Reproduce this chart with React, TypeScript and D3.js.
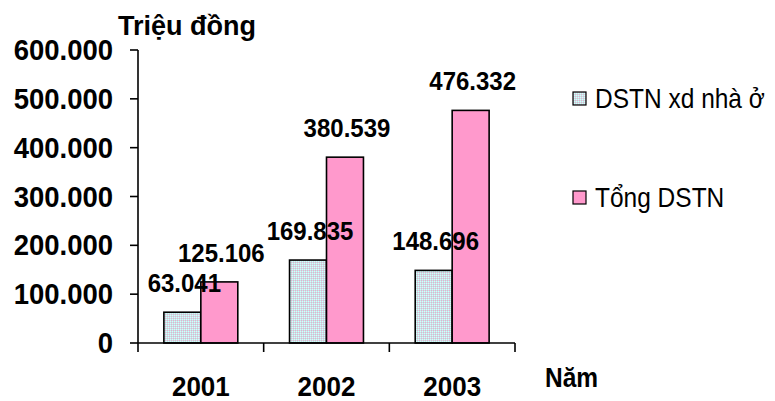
import React from "react";
import * as d3 from "d3";

const years = ["2001", "2002", "2003"];
const seriesNames = ["DSTN xd nhà ở", "Tổng DSTN"];
const housingRevenue = [63041, 169835, 148696];
const totalRevenue = [125106, 380539, 476332];
const yTicks = [0, 100000, 200000, 300000, 400000, 500000, 600000];

const W = 775;
const H = 401;
const FONT = "'Liberation Sans', Arial, Helvetica, sans-serif";
const PINK = "#ff99cc";

const fmt = (v: number) => {
  // Vietnamese style thousands separator
  const s = Math.round(v).toString();
  return s.replace(/\B(?=(\d{3})+(?!\d))/g, ".");
};

function Label(props: {
  x: number;
  y: number;
  size: number;
  anchor?: "start" | "middle" | "end";
  weight?: string;
  sy?: number;
  textLength?: number;
  children: React.ReactNode;
}) {
  const { x, y, size, anchor = "middle", weight = "bold", sy = 1.08, textLength } = props;
  return (
    <text
      transform={`translate(${x},${y}) scale(1,${sy})`}
      textAnchor={anchor}
      fontFamily={FONT}
      fontWeight={weight}
      fontSize={size}
      fill="#000"
      {...(textLength ? { textLength, lengthAdjust: "spacing" } : {})}
    >
      {props.children}
    </text>
  );
}

export default function App() {
  const left = 138;
  const right = 515;
  const y0 = 343;
  const yTop = 50;

  const x0 = d3.scaleBand<string>().domain(years).range([left, right]).padding(0);
  const x1 = d3
    .scaleBand<string>()
    .domain(seriesNames)
    .range([0, x0.bandwidth()])
    .paddingInner(0)
    .paddingOuter(0.7);
  const y = d3.scaleLinear().domain([0, 600000]).range([y0, yTop]);

  const data = years.map((yr, i) => ({
    year: yr,
    values: [housingRevenue[i], totalRevenue[i]],
  }));

  const fills = ["url(#dots)", PINK];

  return (
    <svg
      width={W}
      height={H}
      style={{ position: "fixed", left: 0, top: 0, background: "#fff" }}
    >
      <defs>
        <pattern id="dots" patternUnits="userSpaceOnUse" width={2} height={2}>
          <rect x={0} y={0} width={2} height={2} fill="#b8ecee" />
          <rect x={1} y={0} width={1} height={1} fill="#eeaac6" />
          <rect x={0} y={1} width={1} height={1} fill="#e2f4f4" />
        </pattern>
      </defs>

      {/* bars */}
      {data.map((d) =>
        d.values.map((v, j) => {
          const bx = (x0(d.year) ?? 0) + (x1(seriesNames[j]) ?? 0);
          const bw = x1.bandwidth();
          return (
            <rect
              key={`${d.year}-${j}`}
              x={bx}
              y={y(v)}
              width={bw}
              height={y0 - y(v)}
              fill={fills[j]}
              stroke="#000"
              strokeWidth={1.6}
            />
          );
        })
      )}

      {/* axes */}
      <line x1={left} x2={left} y1={y(600000)} y2={y0} stroke="#000" strokeWidth={1.6} />
      <line x1={left} x2={right} y1={y0} y2={y0} stroke="#000" strokeWidth={1.6} />
      {yTicks.map((t) => (
        <g key={t}>
          <line x1={left - 8} x2={left} y1={y(t)} y2={y(t)} stroke="#000" strokeWidth={1.6} />
          <Label x={113} y={y(t) + 10} size={27.5} anchor="end" sy={1.1}>
            {t === 0 ? "0" : fmt(t)}
          </Label>
        </g>
      ))}
      {[...years.map((yr) => x0(yr) ?? 0), right].map((tx, i) => (
        <line key={i} x1={tx} x2={tx} y1={y0} y2={y0 + 9} stroke="#000" strokeWidth={1.6} />
      ))}
      {years.map((yr) => (
        <Label key={yr} x={(x0(yr) ?? 0) + x0.bandwidth() / 2} y={396} size={26} sy={1.08}>
          {yr}
        </Label>
      ))}

      {/* value labels */}
      {data.map((d) =>
        d.values.map((v, j) => {
          const cx = (x0(d.year) ?? 0) + (x1(seriesNames[j]) ?? 0) + x1.bandwidth() / 2;
          return (
            <Label key={`l-${d.year}-${j}`} x={cx + 2} y={y(v) - 20} size={24} sy={1.05}>
              {fmt(v)}
            </Label>
          );
        })
      )}

      {/* axis titles */}
      <Label x={118} y={35} size={27} anchor="start" sy={1.0}>
        Triệu đồng
      </Label>
      <Label x={545} y={387} size={24.5} anchor="start" sy={1.1}>
        Năm
      </Label>

      {/* legend */}
      {seriesNames.map((name, i) => {
        const by = 108 + i * 99;
        return (
          <g key={name}>
            <rect
              x={573}
              y={by - 16}
              width={13}
              height={13}
              fill={fills[i]}
              stroke="#000"
              strokeWidth={1.2}
            />
            <Label x={595} y={by} size={24.5} anchor="start" weight="normal" sy={1.12}>
              {name}
            </Label>
          </g>
        );
      })}
    </svg>
  );
}
